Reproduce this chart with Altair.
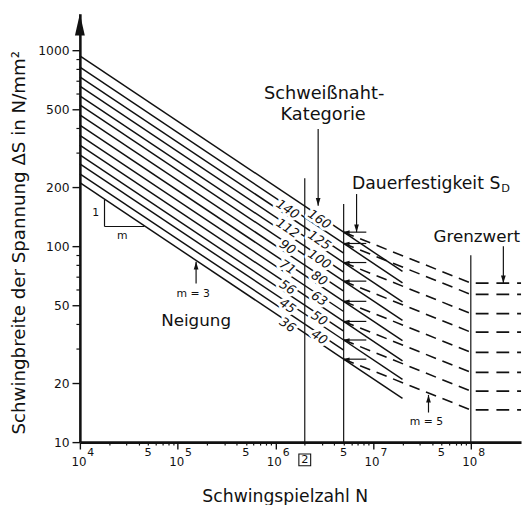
import altair as alt
import pandas as pd

# ---------------- data ----------------
categories = [160, 140, 125, 112, 100, 90, 80, 71, 63, 56, 50, 45, 40, 36]
stress_at_1e4 = [936, 819, 731, 655, 585, 526, 468, 415, 368, 328, 292, 263, 234, 211]
stress_at_5e6 = [117.9, 103.2, 92.1, 82.5, 73.7, 66.3, 58.9, 52.3, 46.4, 41.3, 36.8, 33.2, 29.5, 26.5]
labels_left = [140, 112, 90, 71, 56, 45, 36]
labels_right = [160, 125, 100, 80, 63, 50, 40]
extended = [160, 140, 112, 90, 71, 56, 45, 36]
stress_at_2e7 = [74.3, 65.0, 52.0, 41.8, 33.0, 26.0, 20.9, 16.7]
stress_at_1e8 = [64.8, 56.7, 45.3, 36.4, 28.7, 22.7, 18.2, 14.6]

N_START, N_C, N_D, N_EXT, N_L = 1e4, 2e6, 5e6, 2e7, 1e8
vertical_N = [2e6, 5e6, 1e8]
vertical_top = [222, 164, 90]

x_powers = [4, 5, 6, 7, 8]
x_fives = [5e4, 5e5, 5e6, 5e7]
y_label_values = [10, 20, 50, 100, 200, 500, 1000]

# ---------------- layout helpers ----------------
PX_DEC_X = 99.25
PX_DEC_Y = 199.0
W, H = 448, 435
x_max = 10 ** (4 + W / PX_DEC_X)
y_max = 10 ** (1 + H / PX_DEC_Y)
xs = alt.Scale(type="log", domain=[1e4, x_max], nice=False)
ys = alt.Scale(type="log", domain=[10, y_max], nice=False)
FONT = "DejaVu Sans"
INK = "#111111"

x_minor = [k * 10 ** p for p in range(4, 8) for k in range(2, 10)]
x_major = [10 ** p for p in x_powers]
y_minor = [k * 10 ** p for p in range(1, 3) for k in range(1, 10) if k * 10 ** p not in y_label_values]

x_axis_minor = alt.Axis(
    values=x_minor, labels=False, grid=False, orient="bottom",
    domainColor=INK, domainWidth=2.6, tickColor=INK, tickWidth=1.2, tickSize=3,
    title="Schwingspielzahl N", titleFont=FONT, titleFontSize=17.5, titleFontWeight="normal",
    titleColor=INK, titleX=208, titleY=55, titleBaseline="middle", titleAlign="center",
)
x_axis_major = alt.Axis(
    values=x_major, labels=False, grid=False, orient="bottom", domain=False,
    tickColor=INK, tickWidth=1.4, tickSize=7, title=None,
)
y_axis_minor = alt.Axis(
    values=y_minor, labels=False, grid=False, orient="left",
    domainColor=INK, domainWidth=2.6, tickColor=INK, tickWidth=1.2, tickSize=4,
    title="Schwingbreite der Spannung \u0394S in N/mm\u00b2", titleFont=FONT, titleFontSize=18.5,
    titleFontWeight="normal", titleColor=INK, titleX=-62, titleY=232, titleAngle=270,
    titleBaseline="middle", titleAlign="center",
)
y_axis_major = alt.Axis(
    values=y_label_values, grid=False, orient="left", domain=False,
    labelExpr="'' + datum.value", labelOverlap=False, labelFont=FONT, labelFontSize=12.5,
    labelColor=INK, labelPadding=3,
    tickColor=INK, tickWidth=1.4, tickSize=8, title=None,
)


def X(f="N"):
    return alt.X(f"{f}:Q", scale=xs, axis=None)


def Y(f="S"):
    return alt.Y(f"{f}:Q", scale=ys, axis=None)


sd_of = dict(zip(categories, stress_at_5e6))

# ---------------- main m=3 lines ----------------
rows = []
for c, s0, sd in zip(categories, stress_at_1e4, stress_at_5e6):
    rows.append({"cat": c, "N": N_START, "S": s0})
    rows.append({"cat": c, "N": N_D, "S": sd})
main = alt.Chart(pd.DataFrame(rows)).mark_line(color=INK, strokeWidth=1.5).encode(
    x=alt.X("N:Q", scale=xs, axis=x_axis_minor),
    y=alt.Y("S:Q", scale=ys, axis=y_axis_minor),
    detail="cat:N",
)

# solid continuation beyond 5e6
rows = []
for c, s2 in zip(extended, stress_at_2e7):
    rows.append({"cat": c, "N": N_D, "S": sd_of[c]})
    rows.append({"cat": c, "N": N_EXT, "S": s2})
ext = alt.Chart(pd.DataFrame(rows)).mark_line(color=INK, strokeWidth=1.5).encode(
    x=alt.X("N:Q", scale=xs, axis=x_axis_major),
    y=alt.Y("S:Q", scale=ys, axis=y_axis_major),
    detail="cat:N")

# dashed m=5
rows = []
for c, sl in zip(extended, stress_at_1e8):
    rows.append({"cat": c, "N": N_D, "S": sd_of[c]})
    rows.append({"cat": c, "N": N_L, "S": sl})
m5 = alt.Chart(pd.DataFrame(rows)).mark_line(color=INK, strokeWidth=1.6, strokeDash=[11, 7]).encode(
    x=X(), y=Y(), detail="cat:N")

# horizontal dashed beyond 1e8
hz_df = pd.DataFrame({"N": [N_L] * len(extended), "N2": [x_max] * len(extended), "S": stress_at_1e8})
hz = alt.Chart(hz_df).mark_rule(color=INK, strokeWidth=1.7, strokeDash=[13, 8], strokeDashOffset=16).encode(
    x=X(), x2="N2:Q", y=Y())

# vertical reference lines
vdf = pd.DataFrame({"N": vertical_N, "S0": [10] * 3, "S1": vertical_top})
vert = alt.Chart(vdf).mark_rule(color=INK, strokeWidth=1.2).encode(x=X(), y=Y("S0"), y2="S1:Q")

# S_D markers
mk_df = pd.DataFrame({"N": [N_D] * len(extended), "N2": [N_D * 10 ** (23 / PX_DEC_X)] * len(extended),
                      "S": [sd_of[c] for c in extended]})
markers = alt.Chart(mk_df).mark_rule(color=INK, strokeWidth=1.2).encode(x=X(), x2="N2:Q", y=Y())
wedges = alt.Chart(mk_df).mark_point(shape="M0,0L3,-0.9L3,0.9Z", size=16, filled=True, color=INK, opacity=1).encode(
    x=X(), y=Y())

# ---------------- category labels on the lines ----------------
ANG = 33.76
rows = []
for c in labels_left:
    off = 0.16
    rows.append({"t": str(c), "N": N_C * 10 ** (-off), "S": c * 10 ** (off / 3)})
for c in labels_right:
    off = 0.165
    rows.append({"t": str(c), "N": N_C * 10 ** off, "S": c * 10 ** (-off / 3)})
lab_df = pd.DataFrame(rows)
lab_halo = alt.Chart(lab_df).mark_text(font=FONT, fontSize=13, fontStyle="italic", angle=ANG, dy=3,
                                      fill="white", stroke="white", strokeWidth=6, strokeJoin="round").encode(
    x=X(), y=Y(), text="t:N")
lab = alt.Chart(lab_df).mark_text(font=FONT, fontSize=13, fontStyle="italic", angle=ANG, dy=3, color=INK).encode(
    x=X(), y=Y(), text="t:N")

# ---------------- annotations ----------------
big_df = pd.DataFrame({
    "t": ["Schwei\u00dfnaht-", "Kategorie", "Neigung", "Grenzwert"],
    "N": [10 ** 6.499, 10 ** 6.489, 10 ** 5.189, 10 ** 8.06],
    "S": [10 ** 2.774, 10 ** 2.668, 10 ** 1.618, 10 ** 2.045],
    "fs": [18, 18, 17, 17],
})
big = alt.Chart(big_df).mark_text(font=FONT, color=INK).encode(
    x=X(), y=Y(), text="t:N", size=alt.Size("fs:Q", scale=None, legend=None))

sd_df = pd.DataFrame({"N": [10 ** 8.302], "S": [10 ** 2.317]})
sd_txt = alt.Chart(sd_df).mark_text(font=FONT, fontSize=17.5, color=INK, align="right").encode(
    x=X(), y=Y(), text=alt.value("Dauerfestigkeit S"))
sd_sub = alt.Chart(sd_df).mark_text(font=FONT, fontSize=11.5, color=INK, align="left", dx=1, dy=5).encode(
    x=X(), y=Y(), text=alt.value("D"))

small_df = pd.DataFrame({
    "t": ["m = 3", "m = 5", "1", "m"],
    "N": [10 ** 5.159, 10 ** 7.547, 10 ** 4.161, 10 ** 4.433],
    "S": [10 ** 1.754, 10 ** 1.1005, 10 ** 2.171, 10 ** 2.050],
})
small = alt.Chart(small_df).mark_text(font=FONT, fontSize=11, color=INK).encode(x=X(), y=Y(), text="t:N")

# arrows
arr_df = pd.DataFrame({
    "N": [10 ** 6.438, 10 ** 6.831, 10 ** 8.333, 10 ** 5.189, 10 ** 7.567],
    "S0": [10 ** 2.598, 10 ** 2.266, 10 ** 2.0, 10 ** 1.809, 10 ** 1.151],
    "S1": [10 ** 2.206, 117.9, 64.8, 10 ** 1.92, 10 ** 1.241],
    "dir": ["down", "down", "down", "up", "up"],
})
shafts = alt.Chart(arr_df).mark_rule(color=INK, strokeWidth=1.2).encode(x=X(), y=Y("S0"), y2="S1:Q")
heads_dn = alt.Chart(arr_df[arr_df.dir == "down"]).mark_point(
    shape="M-0.8,-2.6L0.8,-2.6L0,0Z", size=36, filled=True, color=INK, opacity=1).encode(x=X(), y=Y("S1"))
heads_up = alt.Chart(arr_df[arr_df.dir == "up"]).mark_point(
    shape="M-0.8,2.6L0.8,2.6L0,0Z", size=36, filled=True, color=INK, opacity=1).encode(x=X(), y=Y("S1"))

# slope triangle
tri_v = alt.Chart(pd.DataFrame({"N": [10 ** 4.252], "S0": [173], "S1": [126]})).mark_rule(
    color=INK, strokeWidth=1.2).encode(x=X(), y=Y("S0"), y2="S1:Q")
tri_h = alt.Chart(pd.DataFrame({"N": [10 ** 4.252], "N2": [10 ** 4.66], "S": [126]})).mark_rule(
    color=INK, strokeWidth=1.2).encode(x=X(), x2="N2:Q", y=Y())

# y-axis arrow head
yarrow = alt.Chart(pd.DataFrame({"N": [1e4], "S": [y_max]})).mark_point(
    shape="M-0.5,2.2L0.5,2.2L0,0Z", size=400, filled=True, color=INK, opacity=1).encode(x=X(), y=Y())

# ---------------- x tick labels ----------------
pw_df = pd.DataFrame({"N": [10.0 ** p for p in x_powers], "e": [str(p) for p in x_powers]})
ten = alt.Chart(pw_df).mark_text(font=FONT, fontSize=12, color=INK, dx=-1).encode(
    x=X(), y=alt.value(455), text=alt.value("10"))
expo = alt.Chart(pw_df).mark_text(font=FONT, fontSize=11, color=INK, dx=11).encode(
    x=X(), y=alt.value(446), text="e:N")
five_df = pd.DataFrame({"N": x_fives})
fives = alt.Chart(five_df).mark_text(font=FONT, fontSize=11.5, color=INK).encode(
    x=X(), y=alt.value(446), text=alt.value("5"))
two_df = pd.DataFrame({"N": [N_C]})
two_txt = alt.Chart(two_df).mark_text(font=FONT, fontSize=11.5, color=INK).encode(
    x=X(), y=alt.value(453), text=alt.value("2"))
two_box = alt.Chart(two_df).mark_point(shape="square", size=144, filled=False, color=INK, strokeWidth=1.1,
                                       opacity=1).encode(x=X(), y=alt.value(453))

chart = alt.layer(
    main, ext, m5, hz, vert, markers, wedges, lab_halo, lab, big, sd_txt, sd_sub, small,
    shafts, heads_dn, heads_up, tri_v, tri_h, yarrow, ten, expo, fives, two_txt, two_box,
).resolve_axis(x="independent", y="independent").properties(
    width=W, height=H, autosize="none",
    padding={"left": 73, "top": 2, "right": 2, "bottom": 60},
    background="white",
).configure_view(stroke=None)

chart.save("out.html", embed_options={"renderer": "svg", "actions": False})
